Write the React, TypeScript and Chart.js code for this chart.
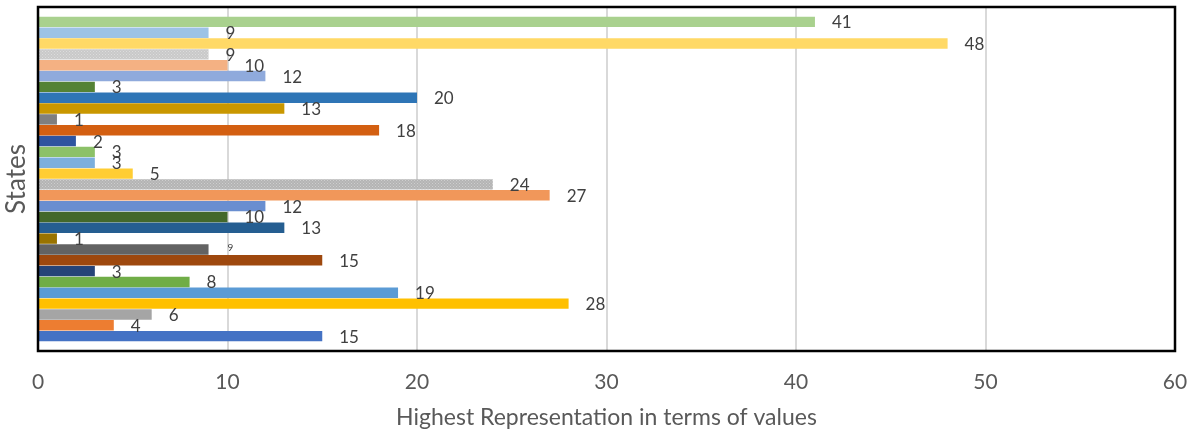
import React, { useEffect, useRef } from 'react';
import { Chart, registerables } from 'chart.js';

Chart.register(...registerables);

// One category, one series per state (listed from the top bar to the bottom bar)
const CATEGORIES = [''];
const STATE_VALUES = [41, 9, 48, 9, 10, 12, 3, 20, 13, 1, 18, 2, 3, 3, 5, 24, 27, 12, 10, 13, 1, 9, 15, 3, 8, 19, 28, 6, 4, 15];
const STATE_NAMES = [
  'State 30', 'State 29', 'State 28', 'State 27', 'State 26', 'State 25', 'State 24', 'State 23', 'State 22', 'State 21',
  'State 20', 'State 19', 'State 18', 'State 17', 'State 16', 'State 15', 'State 14', 'State 13', 'State 12', 'State 11',
  'State 10', 'State 9', 'State 8', 'State 7', 'State 6', 'State 5', 'State 4', 'State 3', 'State 2', 'State 1',
];
const STATE_COLORS = [
  '#A9D18E', '#9DC3E6', '#FFD966', '#C9C9C9', '#F4B183', '#8FAADC', '#548235', '#2E75B6', '#C99700', '#7F7F7F',
  '#D35F11', '#2E54A0', '#8CC168', '#7CAFDD', '#FFCD33', '#B4B4B4', '#F1975A', '#698ED0', '#43682B', '#255E91',
  '#997300', '#636363', '#9E480E', '#264478', '#70AD47', '#5B9BD5', '#FFC000', '#A5A5A5', '#ED7D31', '#4472C4',
];
const DOTTED_SERIES = [3, 15];
const X_MIN = 0;
const X_MAX = 60;
const X_STEP = 10;
const X_TITLE = 'Highest Representation in terms of values';
const Y_TITLE = 'States';
const SMALL_LABEL_SERIES = 21; // this data label is drawn small in the original

const FONT = 'Lato, "Open Sans", sans-serif';
const TEXT_COLOR = '#595959';

function dottedPattern(base: string): CanvasPattern | string {
  const c = document.createElement('canvas');
  c.width = 3;
  c.height = 3;
  const g = c.getContext('2d');
  if (!g) return base;
  g.fillStyle = base;
  g.fillRect(0, 0, 3, 3);
  g.fillStyle = 'rgba(255,255,255,0.35)';
  g.fillRect(0, 0, 1, 1);
  g.fillRect(1.5, 1.5, 1, 1);
  const p = g.createPattern(c, 'repeat');
  return p || base;
}

const decorPlugin = {
  id: 'decor',
  afterDatasetsDraw(chart: any) {
    const { ctx, chartArea } = chart;
    ctx.save();
    ctx.textBaseline = 'middle';
    ctx.textAlign = 'left';
    chart.data.datasets.forEach((ds: any, i: number) => {
      const meta = chart.getDatasetMeta(i);
      meta.data.forEach((bar: any, j: number) => {
        const v = ds.data[j];
        const small = i === SMALL_LABEL_SERIES;
        ctx.font = `${small ? 10 : 17}px ${FONT}`;
        ctx.fillStyle = '#404040';
        ctx.fillText(String(v), bar.x + (small ? 19 : 17), bar.y + (small ? -2 : 1));
      });
    });
    ctx.strokeStyle = '#000000';
    ctx.lineWidth = 2.5;
    ctx.strokeRect(chartArea.left, chartArea.top, chartArea.right - chartArea.left, chartArea.bottom - chartArea.top);
    ctx.restore();
  },
};

export default function App() {
  const canvasRef = useRef<HTMLCanvasElement | null>(null);

  useEffect(() => {
    const canvas = canvasRef.current;
    if (!canvas) return;
    const chart = new Chart(canvas, {
      type: 'bar',
      data: {
        labels: CATEGORIES,
        datasets: STATE_VALUES.map((v, i) => ({
          label: STATE_NAMES[i],
          data: [v],
          backgroundColor: DOTTED_SERIES.includes(i) ? dottedPattern(STATE_COLORS[i]) : STATE_COLORS[i],
          borderWidth: 0,
          categoryPercentage: 0.945,
          barPercentage: 0.96,
        })),
      },
      options: {
        indexAxis: 'y',
        animation: false,
        responsive: false,
        devicePixelRatio: 1,
        layout: { padding: { left: 0, right: 20, top: 7, bottom: 0 } },
        plugins: {
          legend: { display: false },
          tooltip: { enabled: false },
        },
        scales: {
          x: {
            min: X_MIN,
            max: X_MAX,
            ticks: {
              stepSize: X_STEP,
              color: TEXT_COLOR,
              font: { family: FONT, size: 21 },
              padding: 19,
            },
            grid: { color: '#D9D9D9', lineWidth: 2, drawTicks: false },
            border: { display: false },
            title: {
              display: true,
              text: X_TITLE,
              color: TEXT_COLOR,
              font: { family: FONT, size: 23 },
              padding: { top: 0, bottom: 1 },
            },
            afterFit: (s: any) => {
              s.height = 81;
              s.paddingLeft = 0;
              s.paddingRight = 0;
            },
          },
          y: {
            ticks: { display: false },
            grid: { display: false },
            border: { display: false },
            title: {
              display: true,
              text: Y_TITLE,
              color: TEXT_COLOR,
              font: { family: FONT, size: 26 },
              padding: { top: 1, bottom: 0 },
            },
            afterFit: (s: any) => { s.width = 38; },
          },
        },
      },
      plugins: [decorPlugin],
    } as any);
    return () => chart.destroy();
  }, []);

  return (
    <div style={{ position: 'fixed', left: 0, top: 0, width: 1195, height: 432, background: '#ffffff' }}>
      <canvas ref={canvasRef} width={1195} height={432} />
    </div>
  );
}
